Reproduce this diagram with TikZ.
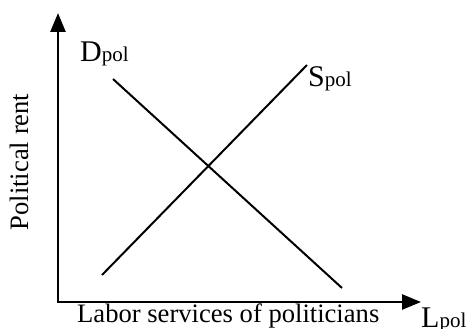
\documentclass[tikz,border=0pt]{standalone}
\usepackage{fontspec}
\setmainfont{Liberation Serif}
\usetikzlibrary{arrows.meta}
\tikzset{
  axis/.style={line width=2.5pt, -{Triangle[length=19pt,width=15pt]}},
  curve/.style={line width=2pt},
  big/.style={inner sep=0pt, font=\fontsize{26.6}{30}\selectfont},
  main/.style={inner sep=0pt, anchor=base west, font=\fontsize{30}{34}\selectfont},
}
\newcommand{\subp}[1]{{\fontsize{21}{24}\selectfont #1}}
\begin{document}
\begin{tikzpicture}[x=1pt,y=-1pt]
\useasboundingbox (0,0) rectangle (466,329);
\coordinate (O) at (58,302);
\coordinate (ytip) at (58,13);
\coordinate (xtip) at (421,302);
\draw[axis] (O) -- (ytip);
\draw[axis] ([xshift=-1.25pt]O) -- (xtip);
\coordinate (d1) at (113,79);
\coordinate (d2) at (342,288);
\coordinate (s1) at (102,275);
\coordinate (s2) at (307,65);
\draw[curve] (d1) -- (d2);
\draw[curve] (s1) -- (s2);
\node[main] (dlab) at (80,62) {D\subp{pol}};
\node[main] (slab) at (308,87) {S\subp{pol}};
\node[main] (llab) at (421,327) {L\subp{pol}};
\node[big, anchor=base west] (xlab) at (77,322) {Labor services of politicians};
\node[big, anchor=base, rotate=90] (ylab) at (28,162) {Political rent};
\end{tikzpicture}
\end{document}
